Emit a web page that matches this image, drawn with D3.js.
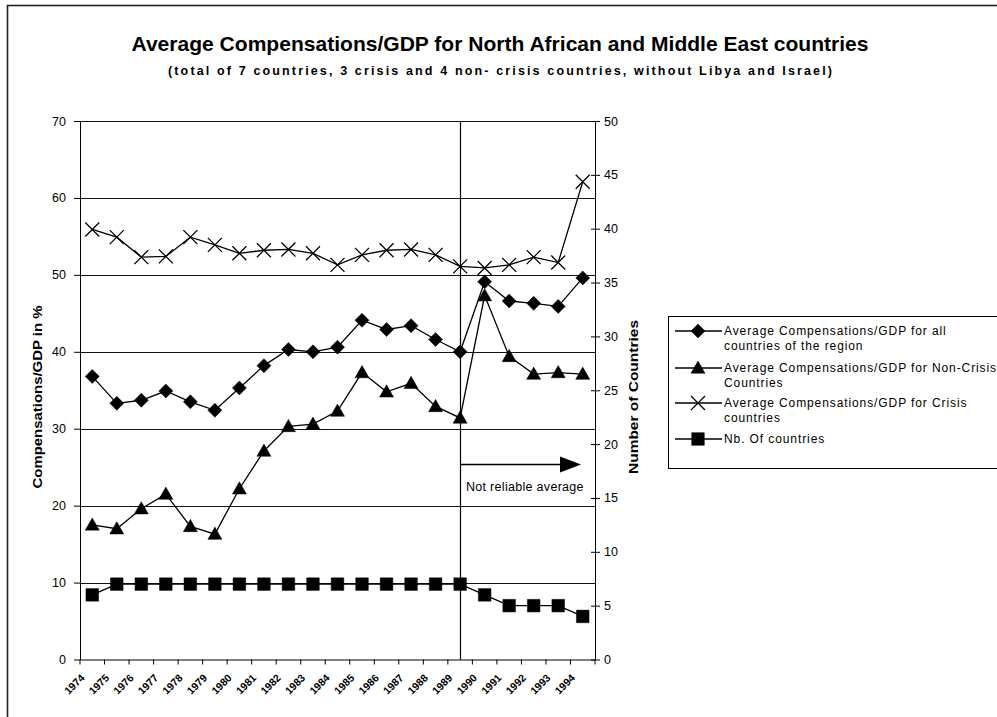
<!DOCTYPE html>
<html>
<head>
<meta charset="utf-8">
<script src="https://cdn.jsdelivr.net/npm/d3@7"></script>
<style>
  body { margin: 0; background: #fff; }
  svg { display: block; font-family: "Liberation Sans", Arial, sans-serif; }
</style>
</head>
<body>
<svg id="chart" width="997" height="717"></svg>
<script>
// ---- data ----
const years = ["1974","1975","1976","1977","1978","1979","1980","1981","1982","1983","1984",
               "1985","1986","1987","1988","1989","1990","1991","1992","1993","1994"];
const allCountries = [36.8, 33.3, 33.7, 34.9, 33.5, 32.4, 35.3, 38.2, 40.3, 40.0, 40.6,
                      44.1, 42.9, 43.4, 41.6, 40.0, 49.1, 46.6, 46.3, 45.9, 49.6];
const nonCrisis    = [17.5, 17.0, 19.6, 21.5, 17.3, 16.3, 22.2, 27.1, 30.3, 30.6, 32.3,
                      37.3, 34.8, 35.9, 32.9, 31.4, 47.3, 39.4, 37.1, 37.3, 37.1];
const crisis       = [55.9, 54.9, 52.3, 52.4, 54.9, 53.9, 52.8, 53.2, 53.3, 52.8, 51.3,
                      52.6, 53.2, 53.3, 52.6, 51.1, 50.9, 51.3, 52.3, 51.6, 62.1];
const countryCount = [6, 7, 7, 7, 7, 7, 7, 7, 7, 7, 7, 7, 7, 7, 7, 7, 6, 5, 5, 5, 4];
const leftTicks  = [0, 10, 20, 30, 40, 50, 60, 70];
const rightTicks = [0, 5, 10, 15, 20, 25, 30, 35, 40, 45, 50];
const legendLabels = [
  ["Average Compensations/GDP for all", "countries of the region"],
  ["Average Compensations/GDP for Non-Crisis", "Countries"],
  ["Average Compensations/GDP for Crisis", "countries"],
  ["Nb. Of countries"]
];
const reliableUntil = "1989";
const titleText = "Average Compensations/GDP for North African and Middle East countries";
const subtitleText = "(total of 7 countries, 3 crisis and 4 non- crisis countries, without Libya and Israel)";

// ---- layout ----
const svg = d3.select("#chart");
const plot = { left: 80, right: 595, top: 121, bottom: 659.5 };

const x = d3.scaleBand().domain(years).range([plot.left, plot.right]).padding(0);
const cx = d => x(d) + x.bandwidth() / 2;
const yL = d3.scaleLinear().domain([0, 70]).range([plot.bottom, plot.top]);
const yR = d3.scaleLinear().domain([0, 50]).range([plot.bottom, plot.top]);

// outer frame
svg.append("rect").attr("x", 7.5).attr("y", 5.5).attr("width", 1100).attr("height", 1000)
  .attr("fill", "none").attr("stroke", "#222").attr("stroke-width", 1.6);

// titles
svg.append("text").attr("x", 500).attr("y", 51).attr("text-anchor", "middle")
  .attr("font-size", 20.5).attr("font-weight", "bold")
  .attr("textLength", 737).attr("lengthAdjust", "spacingAndGlyphs")
  .text(titleText);
svg.append("text").attr("x", 500).attr("y", 75).attr("text-anchor", "middle")
  .attr("font-size", 12.5).attr("font-weight", "bold")
  .attr("textLength", 664).attr("lengthAdjust", "spacing")
  .text(subtitleText);

// horizontal gridlines
svg.append("g").selectAll("line").data(leftTicks.filter(t => t > 0)).join("line")
  .attr("x1", plot.left).attr("x2", plot.right)
  .attr("y1", d => Math.round(yL(d)) + 0.5).attr("y2", d => Math.round(yL(d)) + 0.5)
  .attr("stroke", "#111").attr("stroke-width", 1);

// left axis
const gL = svg.append("g").attr("transform", `translate(${plot.left},0)`)
  .call(d3.axisLeft(yL).tickValues(leftTicks).tickSize(6).tickPadding(8).tickSizeOuter(0));
gL.selectAll("text").attr("font-size", 12.5).attr("fill", "#000").attr("font-family", "Liberation Sans, Arial, sans-serif");
gL.selectAll("line, path").attr("stroke", "#000");

// right axis (ticks cross the axis line)
const gR = svg.append("g").attr("transform", `translate(${plot.right},0)`)
  .call(d3.axisRight(yR).tickValues(rightTicks).tickSize(5).tickPadding(4).tickSizeOuter(0));
gR.selectAll(".tick line").attr("x1", -4);
gR.selectAll("text").attr("font-size", 12.5).attr("fill", "#000").attr("font-family", "Liberation Sans, Arial, sans-serif");
gR.selectAll("line, path").attr("stroke", "#000");

// bottom axis: line, ticks between categories, rotated year labels
const gB = svg.append("g").attr("transform", `translate(0,${plot.bottom})`)
  .call(d3.axisBottom(x).tickSize(0).tickFormat(""));
gB.select("path").attr("stroke", "#000");
svg.append("g").selectAll("line").data(d3.range(years.length + 1)).join("line")
  .attr("x1", i => plot.left + i * x.bandwidth()).attr("x2", i => plot.left + i * x.bandwidth())
  .attr("y1", plot.bottom).attr("y2", plot.bottom + 5).attr("stroke", "#000");
svg.append("g").selectAll("text").data(years).join("text")
  .attr("transform", d => `translate(${cx(d) - 7},${plot.bottom + 19}) rotate(-45)`)
  .attr("text-anchor", "end").attr("font-size", 10.5).attr("font-weight", "bold")
  .text(d => d);

// axis titles
svg.append("text").attr("transform", "translate(42,397) rotate(-90)")
  .attr("text-anchor", "middle").attr("font-size", 12.5).attr("font-weight", "bold")
  .attr("textLength", 183).attr("lengthAdjust", "spacingAndGlyphs")
  .text("Compensations/GDP in %");
svg.append("text").attr("transform", "translate(638,397) rotate(-90)")
  .attr("text-anchor", "middle").attr("font-size", 12.5).attr("font-weight", "bold")
  .attr("textLength", 154).attr("lengthAdjust", "spacingAndGlyphs")
  .text("Number of Countries");

// "not reliable" marker line, arrow and note
const xr = Math.round(cx(reliableUntil)) + 0.5;
svg.append("line").attr("x1", xr).attr("x2", xr).attr("y1", plot.top).attr("y2", plot.bottom)
  .attr("stroke", "#000").attr("stroke-width", 1.2);
svg.append("line").attr("x1", xr).attr("x2", 562).attr("y1", 464.5).attr("y2", 464.5)
  .attr("stroke", "#000").attr("stroke-width", 1.3);
svg.append("path").attr("d", "M560,456.5 L581,464.5 L560,472.5 Z").attr("fill", "#000");
svg.append("text").attr("x", 466).attr("y", 491).attr("font-size", 12.5)
  .attr("letter-spacing", 0.3).text("Not reliable average");

// marker shapes
const markerPath = {
  diamond: r => `M0,${-r}L${r},0L0,${r}L${-r},0Z`,
  triangle: r => `M0,${-r}L${r * 1.0},${r * 0.75}L${-r * 1.0},${r * 0.75}Z`,
  cross: r => `M${-r},${-r}L${r},${r}M${-r},${r}L${r},${-r}`,
  square: r => `M${-r},${-r}H${r}V${r}H${-r}Z`
};
const series = [
  { values: allCountries, y: yL, shape: "diamond", size: 7, fill: true },
  { values: nonCrisis,    y: yL, shape: "triangle", size: 7, fill: true },
  { values: crisis,       y: yL, shape: "cross", size: 7, fill: false },
  { values: countryCount, y: yR, shape: "square", size: 6.3, fill: true }
];

series.forEach(s => {
  const line = d3.line().x((d, i) => cx(years[i])).y(d => s.y(d));
  svg.append("path").datum(s.values).attr("d", line)
    .attr("fill", "none").attr("stroke", "#000").attr("stroke-width", 1.3);
  svg.append("g").selectAll("path").data(s.values).join("path")
    .attr("transform", (d, i) => `translate(${cx(years[i])},${s.y(d)})`)
    .attr("d", markerPath[s.shape](s.size))
    .attr("fill", s.fill ? "#000" : "none")
    .attr("stroke", "#000").attr("stroke-width", s.fill ? 0.5 : 1.3);
});

// legend
const legend = svg.append("g");
legend.append("rect").attr("x", 668.5).attr("y", 316.5).attr("width", 400).attr("height", 152)
  .attr("fill", "#fff").attr("stroke", "#000").attr("stroke-width", 1);
const rowY = [331, 368, 403, 439];
series.forEach((s, k) => {
  const yy = rowY[k];
  legend.append("line").attr("x1", 675).attr("x2", 722).attr("y1", yy).attr("y2", yy)
    .attr("stroke", "#000").attr("stroke-width", 1.3);
  legend.append("path").attr("transform", `translate(698,${yy})`)
    .attr("d", markerPath[s.shape](s.size))
    .attr("fill", s.fill ? "#000" : "none")
    .attr("stroke", "#000").attr("stroke-width", s.fill ? 0.5 : 1.3);
  legendLabels[k].forEach((t, j) => {
    legend.append("text").attr("x", 724).attr("y", yy + j * 14.5).attr("dy", "0.35em")
      .attr("font-size", 12).attr("letter-spacing", 0.9).text(t);
  });
});
</script>
</body>
</html>
